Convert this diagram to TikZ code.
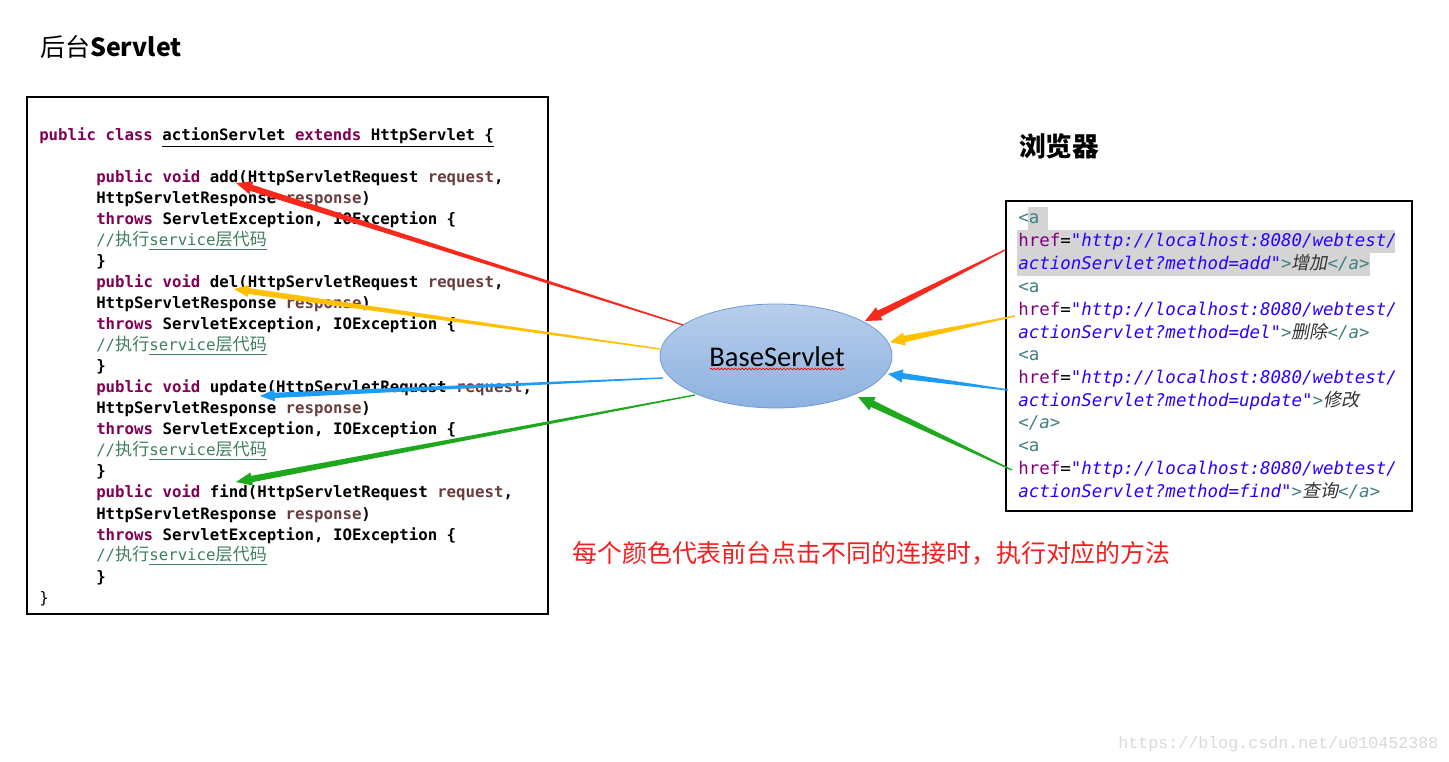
\documentclass[tikz,border=0pt]{standalone}
\usepackage{fontspec}
\usetikzlibrary{calc,shapes.geometric,decorations.pathmorphing}
\newfontfamily\cjk{Noto Sans CJK SC}
\newfontfamily\cjkit[FakeSlant=0.2]{Noto Sans CJK SC}
\newfontfamily\codefont[Ligatures=TeXOff]{DejaVu Sans Mono}
\newfontfamily\wmfont[Ligatures=TeXOff]{Liberation Mono}
\newfontfamily\calib{Carlito}
\definecolor{kwc}{HTML}{7F0055}
\definecolor{varc}{HTML}{6A3E3E}
\definecolor{cmtc}{HTML}{3F7F5F}
\definecolor{tagc}{HTML}{3F7F7F}
\definecolor{attrc}{HTML}{7F007F}
\definecolor{strc}{HTML}{2A00FF}
\definecolor{hlc}{HTML}{D4D4D4}
\definecolor{ared}{HTML}{F8281C}
\definecolor{ayel}{HTML}{FFC000}
\definecolor{ablu}{HTML}{1E9BF5}
\definecolor{agrn}{HTML}{1EA81E}
\definecolor{txtred}{HTML}{F41E1E}
\definecolor{ellborder}{RGB}{110,155,210}
\definecolor{elltop}{RGB}{184,206,236}
\definecolor{ellbot}{RGB}{141,178,224}
\newcommand\kw[1]{{\color{kwc}#1}}
\newcommand\vr[1]{{\color{varc}#1}}
\newcommand\zh[1]{{\cjk\fontsize{12.8}{14}\selectfont #1}}
\newcommand\zhit[1]{{\cjkit\fontsize{13.5}{15}\selectfont\color{black!80} #1}}
\newcommand\cmtline{{\mdseries\color{cmtc}//\zh{执行}\underline{service\zh{层代码}}}}
\newcommand\st[1]{{\color{strc}\itshape #1}}
\newcommand\tg[1]{{\color{tagc}#1}}
\newcommand\taper[7]{%
  \coordinate (tmpH) at ($(#3)!#6!(#2)$);
  \fill[#1] ($(#2)!#4!90:(#3)$) -- ($(tmpH)!#5!-90:(#2)$) -- ($(tmpH)!#7!-90:(#2)$) -- (#3)
    -- ($(tmpH)!#7!90:(#2)$) -- ($(tmpH)!#5!90:(#2)$) -- ($(#2)!#4!-90:(#3)$) -- cycle;}
\begin{document}
\begin{tikzpicture}[x=0.75pt,y=-0.75pt,
  codeline/.style={anchor=base west, inner sep=0pt, font=\codefont\bfseries\fontsize{11.8}{14}\selectfont},
  webline/.style={anchor=base west, inner sep=0pt, font=\codefont\fontsize{13.1}{15}\selectfont},
  frame/.style={draw=black, line width=1.5pt}]
\useasboundingbox (0,0) rectangle (1449,762);
\fill[white] (0,0) rectangle (1449,762);

% titles
\node[anchor=base west, inner sep=0pt] (t1) at (40,57) {{\cjk\fontsize{18.7}{20}\selectfont 后台}{\cjk\bfseries\fontsize{18.7}{20}\selectfont Servlet}};
\node[anchor=base west, inner sep=0pt] (t2) at (1019,157) {\cjk\bfseries\fontsize{20}{22}\selectfont 浏览器};

% code box
\draw[frame] (27,97) rectangle (548,614);
\node[codeline] (c1) at (39,141) {\kw{public} \kw{class} \underline{actionServlet \kw{extends} HttpServlet \{}};
\node[codeline] (c3) at (96,183) {\kw{public} \kw{void} add(HttpServletRequest \vr{request},};
\node[codeline] (c4) at (96,204) {HttpServletResponse \vr{response})};
\node[codeline] (c5) at (96,225) {\kw{throws} ServletException, IOException \{};
\node[codeline] (c6) at (96,246) {\cmtline};
\node[codeline] (c7) at (96,267) {\}};
\node[codeline] (c8) at (96,288) {\kw{public} \kw{void} del(HttpServletRequest \vr{request},};
\node[codeline] (c9) at (96,309) {HttpServletResponse \vr{response})};
\node[codeline] (c10) at (96,330) {\kw{throws} ServletException, IOException \{};
\node[codeline] (c11) at (96,351) {\cmtline};
\node[codeline] (c12) at (96,372) {\}};
\node[codeline] (c13) at (96,393) {\kw{public} \kw{void} update(HttpServletRequest \vr{request},};
\node[codeline] (c14) at (96,414) {HttpServletResponse \vr{response})};
\node[codeline] (c15) at (96,435) {\kw{throws} ServletException, IOException \{};
\node[codeline] (c16) at (96,456) {\cmtline};
\node[codeline] (c17) at (96,477) {\}};
\node[codeline] (c18) at (96,498) {\kw{public} \kw{void} find(HttpServletRequest \vr{request},};
\node[codeline] (c19) at (96,519) {HttpServletResponse \vr{response})};
\node[codeline] (c20) at (96,540) {\kw{throws} ServletException, IOException \{};
\node[codeline] (c21) at (96,561) {\cmtline};
\node[codeline] (c22) at (96,582) {\}};
\node[codeline] (c23) at (39,603) {\mdseries\}};

% browser box
\draw[frame] (1006,201) rectangle (1412,511);
\fill[hlc] (1028,207) rectangle (1048,230);
\fill[hlc] (1017,230) rectangle (1395,253);
\fill[hlc] (1017,253) rectangle (1370,276);
\node[webline] (w1) at (1018,224) {\tg{<a}};
\node[webline] (w2) at (1018,247) {{\color{attrc}href}=\st{"http://localhost:8080/webtest/}};
\node[webline] (w3) at (1018,270) {\st{actionServlet?method=add"}\tg{>}\zhit{增加}\tg{\itshape </a>}};
\node[webline] (w4) at (1018,293) {\tg{<a}};
\node[webline] (w5) at (1018,316) {{\color{attrc}href}=\st{"http://localhost:8080/webtest/}};
\node[webline] (w6) at (1018,339) {\st{actionServlet?method=del"}\tg{>}\zhit{删除}\tg{\itshape </a>}};
\node[webline] (w7) at (1018,361) {\tg{<a}};
\node[webline] (w8) at (1018,384) {{\color{attrc}href}=\st{"http://localhost:8080/webtest/}};
\node[webline] (w9) at (1018,407) {\st{actionServlet?method=update"}\tg{>}\zhit{修改}};
\node[webline] (w10) at (1018,429) {\tg{\itshape </a>}};
\node[webline] (w11) at (1018,452) {\tg{<a}};
\node[webline] (w12) at (1018,475) {{\color{attrc}href}=\st{"http://localhost:8080/webtest/}};
\node[webline] (w13) at (1018,498) {\st{actionServlet?method=find"}\tg{>}\zhit{查询}\tg{\itshape </a>}};

% ellipse
\node[ellipse, draw=ellborder, line width=0.6pt, top color=elltop, bottom color=ellbot,
  minimum width=174pt, minimum height=78pt] (bs) at (776,356) {};
\node[font=\calib\fontsize{21.4}{24}\selectfont, inner sep=0pt] (bst) at (777,357) {BaseServlet};
\draw[red, line width=0.5pt, decorate, decoration={snake, amplitude=0.6pt, segment length=2.6pt}] (710,369) -- (845,369);

% connector end points
\coordinate (lr0) at (683,325); \coordinate (lr1) at (236,183);
\coordinate (ly0) at (660,349); \coordinate (ly1) at (234,289);
\coordinate (lb0) at (663,378); \coordinate (lb1) at (260,396);
\coordinate (lg0) at (695,395); \coordinate (lg1) at (236,482);
\coordinate (rr0) at (1005,250); \coordinate (rr1) at (865,321);
\coordinate (ry0) at (1015,316); \coordinate (ry1) at (890,342);
\coordinate (rb0) at (1008,390); \coordinate (rb1) at (888,374);
\coordinate (rg0) at (1012,470); \coordinate (rg1) at (858,397);

\taper{ared}{lr0}{lr1}{0.5pt}{2.4pt}{12pt}{5pt}
\taper{ayel}{ly0}{ly1}{0.5pt}{2.2pt}{11pt}{4.5pt}
\taper{ablu}{lb0}{lb1}{0.5pt}{2pt}{11pt}{4.5pt}
\taper{agrn}{lg0}{lg1}{0.5pt}{2.4pt}{12pt}{5pt}
\taper{ared}{rr0}{rr1}{0.5pt}{2.6pt}{12pt}{5.5pt}
\taper{ayel}{ry0}{ry1}{0.5pt}{2.4pt}{11pt}{5pt}
\taper{ablu}{rb0}{rb1}{0.5pt}{2.2pt}{11pt}{5pt}
\taper{agrn}{rg0}{rg1}{0.5pt}{2.6pt}{12pt}{5.5pt}

% note
\node[anchor=base west, inner sep=0pt, text=txtred] (note) at (572,562) {\cjk\fontsize{18.7}{20}\selectfont 每个颜色代表前台点击不同的连接时，执行对应的方法};

% watermark
\node[anchor=base west, inner sep=0pt, text=black!15] (wm) at (1118,748) {\wmfont\fontsize{12.5}{14}\selectfont https://blog.csdn.net/u010452388};
\end{tikzpicture}
\end{document}
